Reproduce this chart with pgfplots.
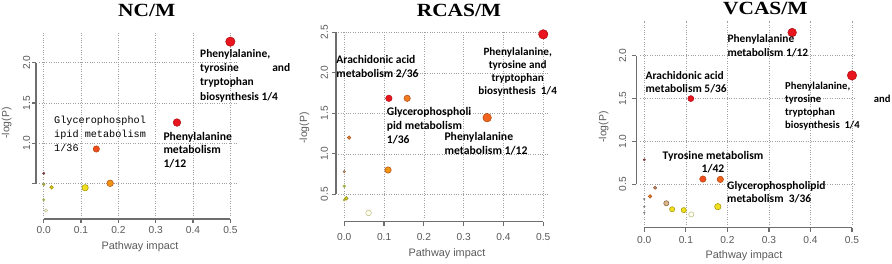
\documentclass[border=0pt]{standalone}
\usepackage{fontspec}
\setmainfont{Liberation Sans}
\newfontfamily\titlefont{Liberation Serif}
\newfontfamily\annfont{Carlito}
\newfontfamily\monofont{Liberation Mono}
\usepackage{pgfplots}
\pgfplotsset{compat=1.18}
\definecolor{tickgray}{HTML}{5A5A5A}
\definecolor{gridgray}{HTML}{A0A0A0}
\definecolor{rgray}{HTML}{6E6E6E}
\definecolor{cred}{HTML}{E8141E}
\definecolor{credD}{HTML}{B00C10}
\definecolor{cor1}{HTML}{F04A1E}
\definecolor{cor2}{HTML}{F0641E}
\definecolor{cor3}{HTML}{F07A20}
\definecolor{cor4}{HTML}{F09414}
\definecolor{corD}{HTML}{B04A10}
\definecolor{cyel}{HTML}{F0E020}
\definecolor{cyelD}{HTML}{A09000}
\definecolor{cbrown}{HTML}{C8845A}
\definecolor{cbrownD}{HTML}{8A5A3A}
\definecolor{ctan}{HTML}{D8B888}
\definecolor{colive}{HTML}{A0A040}
\definecolor{cgreen}{HTML}{98B040}
\definecolor{cpale}{HTML}{FFFFF0}
\definecolor{cpaleD}{HTML}{B8B880}
\definecolor{cdark}{HTML}{7A4040}
\newcommand{\pnt}[4]{\addplot[only marks, mark=*, mark size=#1, mark options={fill=#2, draw=#3, line width=0.5pt}] coordinates {#4};}
\newlength\fitw
% #1 macro, #2 font commands, #3 target width (pt), #4 sample text
\newcommand\setfit[4]{\settowidth\fitw{#2\fontsize{10}{12}\selectfont #4}\pgfmathsetmacro#1{10*#3/\fitw}}
\pgfplotsset{rstyle/.style={
  scale only axis, clip=false, anchor=south west,
  axis line style={draw=none},
  major tick length=0pt,
  grid=major,
  major grid style={gridgray, line width=0.6pt, dash pattern=on 0.8pt off 1.6pt},
  tick label style={font=\fontsize{10.2}{12}\selectfont, text=tickgray},
  /pgf/number format/assume math mode=true,
  xtick={0,0.1,0.2,0.3,0.4,0.5},
  xticklabels={0.0,0.1,0.2,0.3,0.4,0.5},
}}
\tikzset{axl/.style={color=rgray, line width=1.2pt, solid},
  ann/.style={anchor=north west, inner sep=0pt, align=left},
  lab/.style={inner sep=0pt, text=tickgray, font=\fontsize{10.4}{12}\selectfont},
  ttl/.style={anchor=base, inner sep=0pt, xscale=1.15, font=\titlefont\bfseries\fontsize{18.6}{20}\selectfont}}
\newcommand\af[2]{\annfont\bfseries\fontsize{#1}{#2}\selectfont}
% R-style axis drawn through the axis: #1 y of x-line, #2 tick end y, #3 x of y-line, #4 tick end x, #5 top y tick, #6 y ticks list
\newcommand\rax[6]{%
  \addplot[axl, mark=none, forget plot] coordinates {(0,#1) (0.5,#1)};
  \pgfplotsinvokeforeach{0,0.1,0.2,0.3,0.4,0.5}{\addplot[axl, mark=none, forget plot] coordinates {(##1,#1) (##1,#2)};}
  \addplot[axl, mark=none, forget plot] coordinates {(#3,0.5) (#3,#5)};
  \pgfplotsinvokeforeach{#6}{\addplot[axl, mark=none, forget plot] coordinates {(#3,##1) (#4,##1)};}
}
\begin{document}
\setfit\fsAa{\annfont\bfseries}{70}{Phenylalanine,}%
\setfit\fsAb{\annfont\bfseries}{68.4}{Phenylalanine}%
\setfit\fsAc{\monofont}{91.7}{Glycerophosphol}%
\setfit\fsBa{\annfont\bfseries}{79}{Arachidonic acid}%
\setfit\fsBb{\annfont\bfseries}{84.3}{Glycerophospholi}%
\setfit\fsBc{\annfont\bfseries}{83}{metabolism 1/12}%
\setfit\fsBd{\annfont\bfseries}{68.3}{Phenylalanine,}%
\setfit\fsCa{\annfont\bfseries}{66.7}{Phenylalanine}%
\setfit\fsCb{\annfont\bfseries}{78}{Arachidonic acid}%
\setfit\fsCc{\annfont\bfseries}{65}{Phenylalanine,}%
\setfit\fsCd{\annfont\bfseries}{100.7}{Tyrosine metabolism}%
\setfit\fsCe{\annfont\bfseries}{98.3}{Glycerophospholipid}%
\setfit\fsL{\rmfamily}{76.7}{Pathway impact}%
\begin{tikzpicture}
\useasboundingbox (0,0) rectangle (892pt,263pt);
% ---------------- Panel 1 ----------------
\begin{axis}[rstyle, at={(39.22pt,47.02pt)}, width=197.85pt, height=184.0pt,
  xmin=-0.012, xmax=0.518, ymin=0.10, ymax=2.38,
  ytick={0.5,1,1.5,2}, yticklabels={,1.0,1.5,2.0},
  xticklabel style={anchor=center, yshift=-14pt},
  yticklabel style={xshift=-12.5pt, rotate=90, anchor=center}]
\rax{0.0626}{0.013}{-0.0206}{-0.0313}{2.0}{0.5,1,1.5,2}
\pnt{1.1}{cgreen}{cgreen}{(0,0.30)}
\pnt{1.6}{cpale}{cpaleD}{(0.006,0.167)}
\pnt{1.3}{colive}{colive}{(0,0.49)}
\pnt{1.2}{cdark}{cdark}{(0,0.628)}
\pnt{1.8}{cyel!80!olive}{cyelD}{(0.021,0.455)}
\pnt{3.2}{cyel}{cyelD}{(0.111,0.45)}
\pnt{3.3}{cor4}{corD}{(0.178,0.505)}
\pnt{3.2}{cor1}{corD}{(0.141,0.93)}
\pnt{3.8}{cred}{credD}{(0.357,1.258)}
\pnt{4.7}{cred}{credD}{(0.5,2.26)}
\end{axis}
% ---------------- Panel 2 ----------------
\begin{axis}[rstyle, at={(338.33pt,45.21pt)}, width=209.7pt, height=186.3pt,
  xmin=-0.015, xmax=0.512, ymin=0.21, ymax=2.51,
  ytick={0.5,1,1.5,2,2.5}, yticklabels={0.5,1.0,1.5,2.0,2.5},
  xticklabel style={anchor=center, yshift=-18.7pt},
  yticklabel style={xshift=-14pt, rotate=90, anchor=center}]
\rax{0.162}{0.113}{-0.0209}{-0.031}{2.5}{0.5,1,1.5,2,2.5}
\pnt{1.1}{olive!70}{olive!70}{(0,0.43)}
\pnt{1.3}{cgreen}{cgreen}{(0,0.6)}
\pnt{1.1}{ctan}{cbrownD}{(0,0.78)}
\pnt{1.8}{cyel!60!cgreen}{olive}{(0.005,0.45)}
\pnt{2.8}{cpale}{cpaleD}{(0.061,0.27)}
\pnt{1.8}{cbrown!60!cor4}{corD}{(0.012,1.2)}
\pnt{3.2}{cor4}{corD}{(0.11,0.80)}
\pnt{3.2}{cred}{credD}{(0.112,1.685)}
\pnt{3.2}{cor3}{corD}{(0.158,1.685)}
\pnt{4.3}{cor2}{corD}{(0.359,1.446)}
\pnt{4.7}{cred}{credD}{(0.5,2.475)}
\end{axis}
% ---------------- Panel 3 ----------------
\begin{axis}[rstyle, at={(640.15pt,38.3pt)}, width=216.0pt, height=204.2pt,
  xmin=-0.01, xmax=0.51, ymin=0.03, ymax=2.41,
  ytick={0.5,1,1.5,2}, yticklabels={0.5,1.0,1.5,2.0},
  xticklabel style={anchor=center, yshift=-14.8pt},
  yticklabel style={xshift=-17.6pt, rotate=90, anchor=center}]
\rax{-0.003}{-0.0496}{-0.019}{-0.0286}{2.0}{0.5,1,1.5,2}
\pnt{0.8}{gray}{gray}{(0,0.33) (0,0.24) (0,0.17)}
\pnt{1.1}{cdark}{cdark}{(0,0.787)}
\pnt{1.6}{cbrown}{cbrownD}{(0.026,0.461)}
\pnt{1.8}{cbrown!50!cor4}{corD}{(0.014,0.36)}
\pnt{2.6}{ctan}{cbrownD}{(0.053,0.28)}
\pnt{2.6}{cyel}{cyelD}{(0.067,0.21) (0.095,0.20)}
\pnt{2.6}{cpale}{cpaleD}{(0.113,0.15)}
\pnt{3.2}{cyel}{cyelD}{(0.177,0.24)}
\pnt{3.2}{cor1}{corD}{(0.141,0.562)}
\pnt{3.2}{cor2}{corD}{(0.183,0.558)}
\pnt{3.0}{cred}{credD}{(0.112,1.5)}
\pnt{4.3}{cred}{credD}{(0.356,2.27)}
\pnt{4.7}{cred}{credD}{(0.5,1.77)}
\end{axis}
% ---------------- Titles and labels ----------------
\node[ttl] at (146.7pt,246.3pt) {NC/M};
\node[ttl] at (459pt,246.3pt) {RCAS/M};
\node[ttl] at (765.3pt,248pt) {VCAS/M};
\node[lab, font=\fontsize{\fsL}{12}\selectfont] at (140pt,16pt) {Pathway impact};
\node[lab, font=\fontsize{\fsL}{12}\selectfont] at (447pt,9pt) {Pathway impact};
\node[lab, font=\fontsize{\fsL}{12}\selectfont] at (744pt,7pt) {Pathway impact};
\node[lab, rotate=90] at (6.7pt,140pt) {-log(P)};
\node[lab, rotate=90] at (304.5pt,135pt) {-log(P)};
\node[lab, rotate=90] at (603.7pt,136pt) {-log(P)};
% ---------------- Annotations ----------------
\node[ann, font=\af{\fsAa}{14.2}] at (200pt,213.8pt) {Phenylalanine,\\\makebox[90pt][l]{tyrosine\hfill and}\\tryptophan\\biosynthesis 1/4};
\node[ann, font=\af{\fsAb}{13.4}] at (163.3pt,131pt) {Phenylalanine\\metabolism\\1/12};
\node[ann, font=\monofont\fontsize{\fsAc}{14}\selectfont] at (54pt,147.5pt) {Glycerophosphol\\\makebox[91.7pt][l]{ipid\hfill metabolism}\\1/36};
\node[ann, font=\af{\fsBa}{13.3}] at (336.2pt,207.5pt) {Arachidonic acid\\metabolism 2/36};
\node[ann, font=\af{\fsBb}{14.2}] at (386.7pt,156.2pt) {Glycerophospholi\\pid metabolism\\1/36};
\node[ann, font=\af{\fsBc}{14}] at (444.3pt,130.8pt) {Phenylalanine\\metabolism 1/12};
\node[ann, anchor=north, align=center, font=\af{\fsBd}{13.2}] at (517.7pt,216pt) {Phenylalanine,\\tyrosine and\\tryptophan\\biosynthesis\ \ 1/4};
\node[ann, font=\af{\fsCa}{14}] at (727.3pt,229pt) {Phenylalanine\\metabolism 1/12};
\node[ann, font=\af{\fsCb}{13.4}] at (645.5pt,191.8pt) {Arachidonic acid\\metabolism 5/36};
\node[ann, font=\af{\fsCc}{12.9}] at (785pt,181.3pt) {Phenylalanine,\\\makebox[105.3pt][l]{tyrosine\hfill and}\\tryptophan\\biosynthesis\ \ 1/4};
\node[ann, anchor=north, align=center, font=\af{\fsCd}{13.4}] at (713pt,111.8pt) {Tyrosine metabolism\\1/42};
\node[ann, font=\af{\fsCe}{12.6}] at (727pt,81.8pt) {Glycerophospholipid\\metabolism\ \ 3/36};
\end{tikzpicture}
\end{document}
